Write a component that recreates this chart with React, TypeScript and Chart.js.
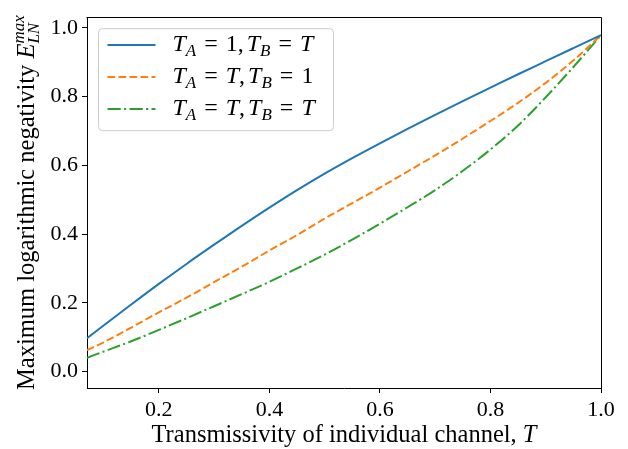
import React, { useEffect, useRef } from "react";
import { Chart, registerables } from "chart.js";

Chart.register(...registerables);

const transmissivity = [0.07, 0.1, 0.15, 0.2, 0.25, 0.3, 0.35, 0.4, 0.45, 0.5, 0.55, 0.6, 0.65, 0.7, 0.75, 0.8, 0.85, 0.9, 0.95, 1.0];
const seriesA1BT = [0.097, 0.134, 0.195, 0.255, 0.313, 0.369, 0.424, 0.477, 0.528, 0.576, 0.621, 0.664, 0.706, 0.747, 0.787, 0.826, 0.865, 0.903, 0.941, 0.979];
const seriesATB1 = [0.062, 0.085, 0.128, 0.172, 0.215, 0.26, 0.305, 0.352, 0.397, 0.445, 0.49, 0.535, 0.582, 0.629, 0.678, 0.729, 0.782, 0.84, 0.905, 0.979];
const seriesATBT = [0.04, 0.058, 0.088, 0.121, 0.155, 0.19, 0.225, 0.261, 0.3, 0.34, 0.384, 0.43, 0.478, 0.528, 0.584, 0.646, 0.716, 0.798, 0.886, 0.979];
const xTicks = [0.2, 0.4, 0.6, 0.8, 1.0];
const yTicks = [0.0, 0.2, 0.4, 0.6, 0.8, 1.0];

const FONT = '"Liberation Serif", "DejaVu Serif", serif';
const BLUE = "#1f77b4";
const ORANGE = "#ff7f0e";
const GREEN = "#2ca02c";
const DASHED = [7.7, 3.3];
const DASHDOT = [13.3, 3.3, 2.1, 3.3];

type Seg = { t: string; it?: boolean; sub?: boolean; sup?: boolean; stack?: boolean; gap?: number };

function segFont(s: Seg, size: number) {
  const sz = s.sub || s.sup ? Math.round(size * 0.7) : size;
  return `${s.it ? "italic " : ""}${sz}px ${FONT}`;
}

function measureRich(ctx: CanvasRenderingContext2D, segs: Seg[], size: number) {
  let w = 0;
  let prevW = 0;
  for (const s of segs) {
    if (s.gap) { w += s.gap; prevW = 0; continue; }
    ctx.font = segFont(s, size);
    const m = ctx.measureText(s.t).width;
    if (s.stack) {
      if (m > prevW) w += m - prevW;
      prevW = Math.max(m, prevW);
    } else {
      w += m;
      prevW = m;
    }
  }
  return w;
}

function drawRich(ctx: CanvasRenderingContext2D, x: number, y: number, segs: Seg[], size: number) {
  let cx = x;
  let prevX = x;
  let prevW = 0;
  ctx.textBaseline = "alphabetic";
  ctx.textAlign = "left";
  for (const s of segs) {
    if (s.gap) { cx += s.gap; prevX = cx; prevW = 0; continue; }
    ctx.font = segFont(s, size);
    const m = ctx.measureText(s.t).width;
    let dy = 0;
    if (s.sub) dy = size * 0.22;
    if (s.sup) dy = -size * 0.4;
    if (s.stack) {
      ctx.fillText(s.t, prevX, y + dy);
      cx = prevX + Math.max(prevW, m);
      prevW = Math.max(prevW, m);
    } else {
      ctx.fillText(s.t, cx, y + dy);
      prevX = cx;
      prevW = m;
      cx += m;
    }
  }
}

const G = 8;
const legendItems: { color: string; dash: number[]; segs: Seg[] }[] = [
  {
    color: BLUE,
    dash: [],
    segs: [
      { t: "T", it: true }, { t: "A", it: true, sub: true }, { gap: G }, { t: "=" }, { gap: G }, { t: "1," }, { gap: 3 },
      { t: "T", it: true }, { t: "B", it: true, sub: true }, { gap: G }, { t: "=" }, { gap: G }, { t: "T", it: true },
    ],
  },
  {
    color: ORANGE,
    dash: DASHED,
    segs: [
      { t: "T", it: true }, { t: "A", it: true, sub: true }, { gap: G }, { t: "=" }, { gap: G }, { t: "T", it: true }, { t: "," }, { gap: 3 },
      { t: "T", it: true }, { t: "B", it: true, sub: true }, { gap: G }, { t: "=" }, { gap: G }, { t: "1" },
    ],
  },
  {
    color: GREEN,
    dash: DASHDOT,
    segs: [
      { t: "T", it: true }, { t: "A", it: true, sub: true }, { gap: G }, { t: "=" }, { gap: G }, { t: "T", it: true }, { t: "," }, { gap: 3 },
      { t: "T", it: true }, { t: "B", it: true, sub: true }, { gap: G }, { t: "=" }, { gap: G }, { t: "T", it: true },
    ],
  },
];

const xTitle: Seg[] = [{ t: "Transmissivity of individual channel, " }, { t: "T", it: true }];
const yTitle: Seg[] = [
  { t: "Maximum logarithmic negativity " },
  { t: "E", it: true },
  { t: "LN", it: true, sub: true },
  { t: "max", it: true, sup: true, stack: true },
];

const decorPlugin = {
  id: "decor",
  afterDraw(chart: any) {
    const ctx: CanvasRenderingContext2D = chart.ctx;
    const a = chart.chartArea;
    ctx.save();
    ctx.strokeStyle = "#000";
    ctx.lineWidth = 1;
    ctx.setLineDash([]);
    ctx.beginPath();
    ctx.moveTo(Math.round(a.left) - 0.5, Math.round(a.top) + 0.5);
    ctx.lineTo(Math.round(a.right) + 0.5, Math.round(a.top) + 0.5);
    ctx.lineTo(Math.round(a.right) + 0.5, Math.round(a.bottom));
    ctx.stroke();

    const bx = a.left + 11.5;
    const by = a.top + 11.5;
    const bw = 235;
    const bh = 102;
    const r = 4;
    ctx.beginPath();
    ctx.moveTo(bx + r, by);
    ctx.lineTo(bx + bw - r, by);
    ctx.quadraticCurveTo(bx + bw, by, bx + bw, by + r);
    ctx.lineTo(bx + bw, by + bh - r);
    ctx.quadraticCurveTo(bx + bw, by + bh, bx + bw - r, by + bh);
    ctx.lineTo(bx + r, by + bh);
    ctx.quadraticCurveTo(bx, by + bh, bx, by + bh - r);
    ctx.lineTo(bx, by + r);
    ctx.quadraticCurveTo(bx, by, bx + r, by);
    ctx.closePath();
    ctx.fillStyle = "rgba(255,255,255,0.8)";
    ctx.fill();
    ctx.strokeStyle = "#cccccc";
    ctx.stroke();

    const rowY = [16.5, 48.5, 80.5];
    legendItems.forEach((it, i) => {
      const ly = Math.round(by + rowY[i]);
      ctx.strokeStyle = it.color;
      ctx.lineWidth = 2;
      ctx.setLineDash(it.dash);
      ctx.beginPath();
      ctx.moveTo(bx + 9, ly);
      ctx.lineTo(bx + 57, ly);
      ctx.stroke();
      ctx.setLineDash([]);
      ctx.fillStyle = "#000";
      drawRich(ctx, bx + 74, ly + 6, it.segs, 24);
    });

    ctx.fillStyle = "#000";
    const xw = measureRich(ctx, xTitle, 24.5);
    drawRich(ctx, (a.left + a.right) / 2 - xw / 2, 442, xTitle, 24.5);

    const yw = measureRich(ctx, yTitle, 24.5);
    ctx.save();
    ctx.translate(34, (a.top + a.bottom) / 2);
    ctx.rotate(-Math.PI / 2);
    drawRich(ctx, -yw / 2, 0, yTitle, 24.5);
    ctx.restore();
    ctx.restore();
  },
};

export default function App() {
  const ref = useRef<HTMLCanvasElement | null>(null);
  useEffect(() => {
    document.body.style.margin = "0";
    const canvas = ref.current;
    if (!canvas) return;
    const mk = (vals: number[]) => transmissivity.map((t, i) => ({ x: t, y: vals[i] }));
    const chart = new Chart(canvas, {
      type: "line",
      data: {
        datasets: [
          { data: mk(seriesA1BT), borderColor: BLUE, borderWidth: 2, pointRadius: 0, cubicInterpolationMode: "monotone", fill: false },
          { data: mk(seriesATB1), borderColor: ORANGE, borderWidth: 2, pointRadius: 0, borderDash: DASHED, cubicInterpolationMode: "monotone", fill: false },
          { data: mk(seriesATBT), borderColor: GREEN, borderWidth: 2, pointRadius: 0, borderDash: DASHDOT, cubicInterpolationMode: "monotone", fill: false },
        ],
      },
      options: {
        animation: false,
        responsive: false,
        devicePixelRatio: 1,
        layout: { padding: { top: 5, right: 27, left: 0, bottom: 0 } },
        plugins: { legend: { display: false }, tooltip: { enabled: false } },
        scales: {
          x: {
            type: "linear",
            min: 0.07,
            max: 1.0,
            afterBuildTicks: (s: any) => { s.ticks = xTicks.map((v) => ({ value: v })); },
            afterFit: (s: any) => { s.height = 61; },
            grid: { display: true, drawOnChartArea: false, drawTicks: true, tickLength: 5, color: "#000", tickColor: "#000" },
            border: { display: true, color: "#000", width: 1 },
            ticks: { color: "#000", font: { family: FONT, size: 22 }, padding: 4, maxRotation: 0, callback: (v: any) => Number(v).toFixed(1) },
          },
          y: {
            type: "linear",
            min: -0.048,
            max: 1.031,
            afterBuildTicks: (s: any) => { s.ticks = yTicks.map((v) => ({ value: v })); },
            afterFit: (s: any) => { s.width = 87; },
            grid: { display: true, drawOnChartArea: false, drawTicks: true, tickLength: 5, color: "#000", tickColor: "#000" },
            border: { display: true, color: "#000", width: 1 },
            ticks: { color: "#000", font: { family: FONT, size: 22 }, padding: 4, callback: (v: any) => Number(v).toFixed(1) },
          },
        },
      },
      plugins: [decorPlugin],
    } as any);
    return () => chart.destroy();
  }, []);
  return <canvas ref={ref} width={628} height={449} style={{ display: "block", width: 628, height: 449 }} />;
}
